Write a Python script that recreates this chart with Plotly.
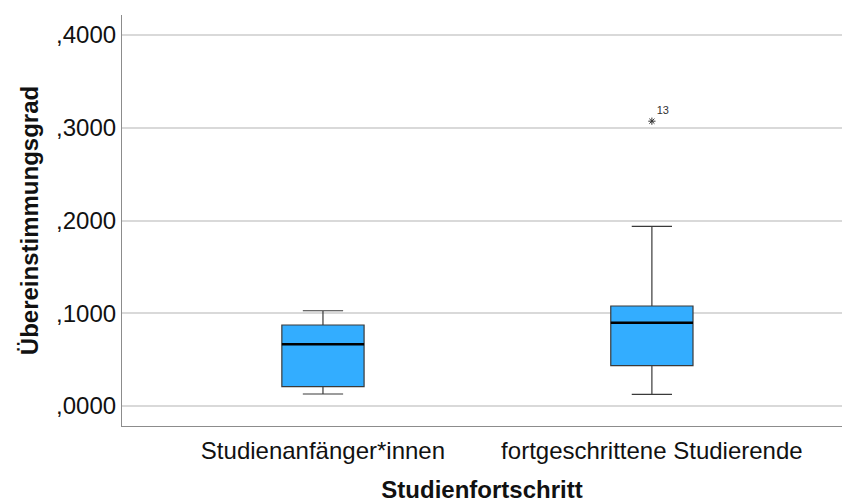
import plotly.graph_objects as go

# Boxplot summary statistics per group (Übereinstimmungsgrad)
groups = ["Studienanfänger*innen", "fortgeschrittene Studierende"]
positions = [0, 1]
q1 = [0.0208, 0.0434]
median = [0.0665, 0.0898]
q3 = [0.0873, 0.1078]
lower_whisker = [0.0129, 0.0126]
upper_whisker = [0.1027, 0.1936]

# Extreme value (case number shown next to it)
outlier_pos = [1]
outlier_value = [0.3071]
outlier_case = ["13"]

y_tickvals = [0.0, 0.1, 0.2, 0.3, 0.4]
y_ticktext = [",0000", ",1000", ",2000", ",3000", ",4000"]

BOX_WIDTH = 0.25
FONT = "Liberation Sans, Arial, sans-serif"

fig = go.Figure()

fig.add_trace(go.Box(
    x=positions,
    q1=q1,
    median=median,
    q3=q3,
    lowerfence=lower_whisker,
    upperfence=upper_whisker,
    width=BOX_WIDTH,
    whiskerwidth=0.49,
    fillcolor="#33adff",
    line=dict(color="#3a3a3a", width=1.2),
    boxpoints=False,
    hoverinfo="skip",
    showlegend=False,
))

# Heavier median line drawn over each box
med_x, med_y = [], []
for p, m in zip(positions, median):
    med_x += [p - BOX_WIDTH / 2, p + BOX_WIDTH / 2, None]
    med_y += [m, m, None]
fig.add_trace(go.Scatter(
    x=med_x, y=med_y, mode="lines",
    line=dict(color="#000000", width=2.5),
    hoverinfo="skip", showlegend=False,
))

# Extreme value marker with case label
fig.add_trace(go.Scatter(
    x=outlier_pos, y=outlier_value, mode="markers+text",
    marker=dict(symbol="asterisk-open", size=6, color="#333333",
                line=dict(color="#333333", width=1)),
    text=outlier_case, textposition="top right",
    textfont=dict(family=FONT, size=11, color="#333333"),
    hoverinfo="skip", showlegend=False,
))

fig.update_layout(
    width=842, height=503,
    margin=dict(l=122, r=0, t=15, b=77),
    paper_bgcolor="white", plot_bgcolor="white",
    font=dict(family=FONT, color="#111111"),
    xaxis=dict(
        range=[-0.611, 1.578],
        tickvals=positions, ticktext=groups,
        tickfont=dict(size=24, color="#111111"),
        ticks="", ticklabelstandoff=3,
        showgrid=False, zeroline=False,
        showline=True, linecolor="#8c8c8c", linewidth=1.2,
        title=dict(text="Studienfortschritt", standoff=20,
                   font=dict(size=24, weight="bold", color="#111111")),
    ),
    yaxis=dict(
        range=[-0.0216, 0.4216],
        tickvals=y_tickvals, ticktext=y_ticktext,
        tickfont=dict(size=24, color="#111111"),
        ticks="", ticklabelstandoff=0,
        showgrid=True, gridcolor="#d9d9d9", gridwidth=2,
        zeroline=False,
        showline=True, linecolor="#8c8c8c", linewidth=1.2,
        title=dict(text="Übereinstimmungsgrad", standoff=10,
                   font=dict(size=24, weight="bold", color="#111111")),
    ),
)

fig.write_html("out.html")
